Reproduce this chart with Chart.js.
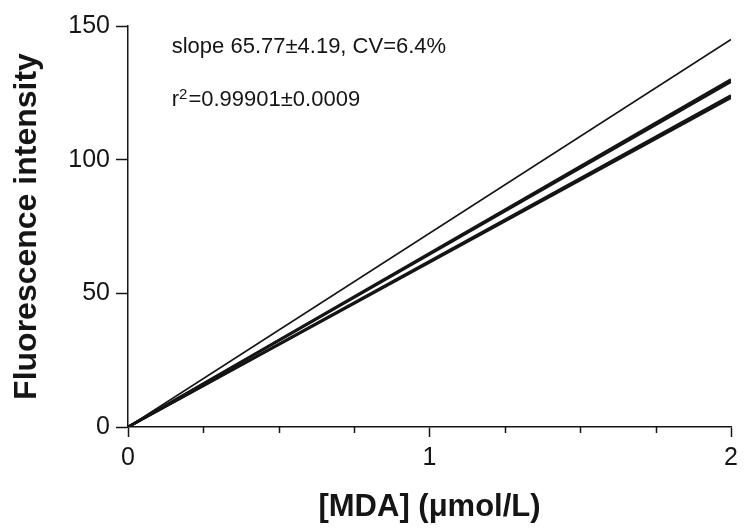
<!DOCTYPE html>
<html><head><meta charset="utf-8">
<script src="https://cdn.jsdelivr.net/npm/chart.js@4/dist/chart.umd.min.js"></script>
<style>html,body{margin:0;padding:0;background:#fff}#wrap{width:744px;height:530px}</style>
</head><body><div id="wrap"><canvas id="c" width="744" height="530"></canvas></div>
<script>
// ---- data ----
const concentrations = [0, 2];          // [MDA] (µmol/L)
const calibrationA = [0, 145.0];
const calibrationB = [0, 130.0];
const calibrationC = [0, 129.2];
const calibrationD = [0, 124.0];
const calibrationE = [0, 123.2];
const xTickLabels = ['0', '1', '2'];
const yTickValues = [0, 50, 100, 150];
const slopeText = 'slope 65.77±4.19, CV=6.4%';
const r2Parts = ['r', '2', '=0.99901±0.0009'];

const FONT = "'Liberation Sans', Arial, Helvetica, sans-serif";
const INK = '#151515';

function pts(vals) { return concentrations.map((x, i) => ({ x: x, y: vals[i] })); }

const series = [
  { data: pts(calibrationA), borderWidth: 1.7 },
  { data: pts(calibrationB), borderWidth: 2.6 },
  { data: pts(calibrationC), borderWidth: 2.6 },
  { data: pts(calibrationD), borderWidth: 2.6 },
  { data: pts(calibrationE), borderWidth: 2.6 }
].map(d => Object.assign(d, { borderColor: INK, pointRadius: 0, fill: false, tension: 0, showLine: true }));

const extras = {
  id: 'extras',
  afterDraw(chart) {
    const ctx = chart.ctx, xs = chart.scales.x, ys = chart.scales.y;
    const bottom = chart.chartArea.bottom;
    ctx.save();
    // minor x ticks
    ctx.strokeStyle = INK; ctx.lineWidth = 1.5;
    xs.ticks.forEach(t => {
      if (Math.abs(t.value - Math.round(t.value)) > 1e-9) {
        const px = Math.round(xs.getPixelForValue(t.value)) + 0.5;
        ctx.beginPath(); ctx.moveTo(px, bottom); ctx.lineTo(px, bottom + 6); ctx.stroke();
      }
    });
    // annotation
    ctx.fillStyle = INK; ctx.textBaseline = 'middle'; ctx.textAlign = 'left';
    const ax = xs.getPixelForValue(0.145);
    ctx.font = '22px ' + FONT;
    ctx.fillText(slopeText, ax, ys.getPixelForValue(142.2));
    const y2 = ys.getPixelForValue(122.3);
    let cx = ax;
    ctx.fillText(r2Parts[0], cx, y2); cx += ctx.measureText(r2Parts[0]).width;
    ctx.font = '15px ' + FONT;
    ctx.fillText(r2Parts[1], cx, y2 - 5); cx += ctx.measureText(r2Parts[1]).width + 1;
    ctx.font = '22px ' + FONT;
    ctx.fillText(r2Parts[2], cx, y2);
    ctx.restore();
  }
};

new Chart(document.getElementById('c'), {
  type: 'scatter',
  data: { datasets: series },
  options: {
    responsive: false, animation: false, devicePixelRatio: 1,
    layout: { padding: { left: 6, right: 9, top: 26, bottom: 2 } },
    plugins: { legend: { display: false }, tooltip: { enabled: false } },
    scales: {
      x: {
        type: 'linear', min: 0, max: 2,
        afterFit(s) { s.height = 101; },
        border: { display: true, color: INK, width: 1.5 },
        grid: { display: true, drawOnChartArea: false, drawTicks: true, tickLength: 10, tickWidth: 1.5,
                tickColor: c => (c.tick && Number.isInteger(c.tick.value)) ? INK : 'rgba(0,0,0,0)' },
        ticks: { stepSize: 0.25, autoSkip: false, maxRotation: 0, padding: 6, color: INK,
                 font: { size: 25, family: FONT },
                 callback: v => Number.isInteger(v) ? xTickLabels[v] : '' },
        title: { display: true, text: '[MDA] (μmol/L)', color: INK,
                 font: { size: 31, family: FONT, weight: 'bold' }, padding: { top: 4, bottom: 2 } }
      },
      y: {
        type: 'linear', min: 0, max: 150,
        afterFit(s) { s.width = 122; },
        afterBuildTicks(s) { s.ticks = yTickValues.map(v => ({ value: v })); },
        border: { display: true, color: INK, width: 1.5 },
        grid: { display: true, drawOnChartArea: false, drawTicks: true, tickLength: 12, tickWidth: 1.5, tickColor: INK },
        ticks: { padding: 6, color: INK, font: { size: 25, family: FONT } },
        title: { display: true, text: 'Fluorescence intensity', color: INK,
                 font: { size: 32, family: FONT, weight: 'bold' }, padding: { top: 2, bottom: 4 } }
      }
    }
  },
  plugins: [extras]
});
</script>
</body></html>
